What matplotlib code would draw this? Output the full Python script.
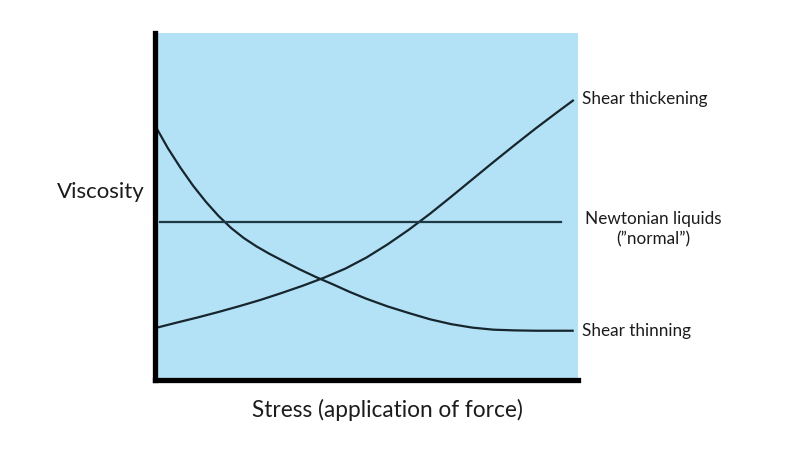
import matplotlib
matplotlib.use("Agg")
import matplotlib.pyplot as plt

# Data (normalized stress 0-100, viscosity 0-100)
thin_x = [0.5, 3, 6, 9, 12, 15, 18, 21, 24, 27, 30, 34, 38, 42, 46, 50, 55, 60, 65, 70,
          75, 80, 85, 90, 99]
thin_y = [72.3, 66.9, 61.2, 56.0, 51.4, 47.3, 43.8, 40.9, 38.5, 36.4, 34.5, 32.0, 29.7,
          27.6, 25.4, 23.4, 21.2, 19.3, 17.5, 16.1, 15.1, 14.5, 14.3, 14.2, 14.2]

thick_x = [0.5, 5, 10, 15, 20, 25, 30, 35, 40, 45, 50, 55, 60, 65, 70, 75, 80, 85, 90, 95, 99]
thick_y = [15.1, 16.5, 18.0, 19.6, 21.3, 23.1, 25.1, 27.2, 29.5, 32.1, 35.3, 39.1, 43.3,
           47.9, 52.8, 57.8, 62.8, 67.7, 72.5, 77.1, 80.7]

newt_x = [1.2, 96.0]
newt_y = [45.5, 45.5]

labels = ["Shear thickening", "Newtonian liquids\n(\u201dnormal\u201d)", "Shear thinning"]
x_label = "Stress (application of force)"
y_label = "Viscosity"

plt.rcParams['font.family'] = ['Lato', 'DejaVu Sans']

fig = plt.figure(figsize=(8, 4.5), dpi=100)
fig.patch.set_facecolor("white")
ax = fig.add_axes([155/800, 1-380/450, 423/800, 347/450])
ax.set_facecolor("#B3E1F6")
ax.set_xlim(0, 100)
ax.set_ylim(0, 100)

line_kw = dict(color="#16262c", lw=1.6, solid_capstyle="butt", solid_joinstyle="round")
ax.plot(thin_x, thin_y, **line_kw)
ax.plot(thick_x, thick_y, **line_kw)
ax.plot(newt_x, newt_y, color="#1d3a44", lw=1.6)

for s in ["top", "right"]:
    ax.spines[s].set_visible(False)
for s in ["left", "bottom"]:
    ax.spines[s].set_linewidth(3.8)
    ax.spines[s].set_color("black")
    ax.spines[s].set_capstyle("projecting")
ax.set_xticks([])
ax.set_yticks([])

tc = "#1c1c1c"
fs_r = 12.3
ax.text(101, thick_y[-1] + 0.3, labels[0], fontsize=fs_r, va="center", ha="left", color=tc)
ax.text(101 + 16.8, newt_y[0] - 2.0, labels[1], fontsize=fs_r, va="center", ha="center",
        color=tc, linespacing=1.3)
ax.text(101, thin_y[-1], labels[2], fontsize=fs_r, va="center", ha="left", color=tc)

fig.text(101/800, 1-192/450, y_label, fontsize=16, ha="center", va="center", color=tc)
fig.text(387/800, 1-410/450, x_label, fontsize=16.3, ha="center", va="center", color=tc)

fig.savefig("out.png", dpi=100)
